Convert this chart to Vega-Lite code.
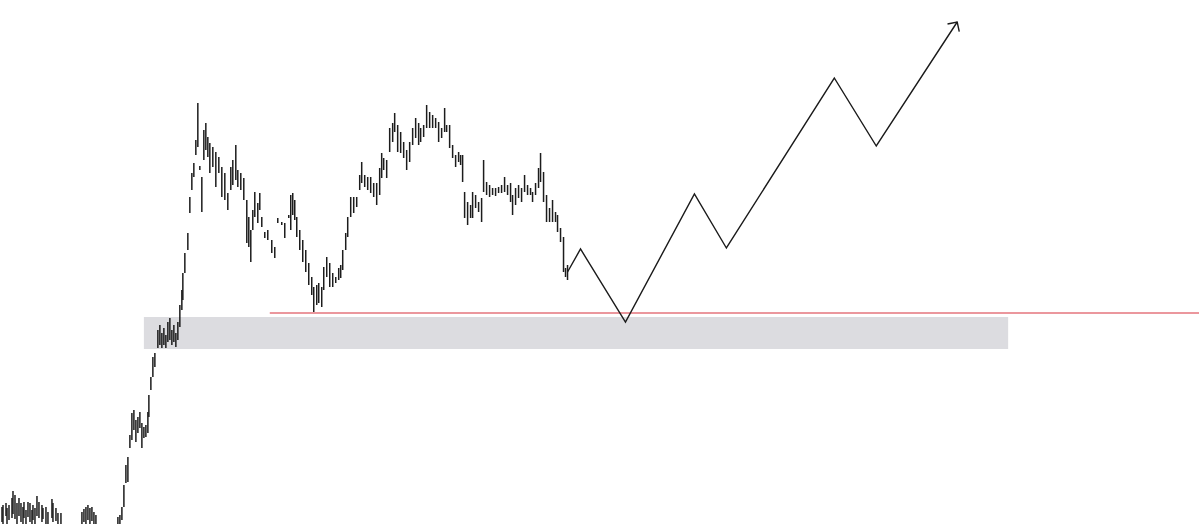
{
  "$schema": "https://vega.github.io/schema/vega-lite/v6.json",
  "width": 1200,
  "height": 524,
  "padding": 0,
  "autosize": {"type": "fit", "contains": "padding"},
  "background": "white",
  "config": {"view": {"stroke": null}},
  "datasets": {
    "bars": [
      {"t":2,"h":17,"l":2},{"t":3,"h":19,"l":-2},{"t":6,"h":21,"l":8},{"t":7,"h":16,"l":0},{"t":9,"h":19,"l":4},
      {"t":12,"h":26,"l":6},{"t":13,"h":33,"l":10},{"t":15,"h":29,"l":5},{"t":17,"h":21,"l":0},{"t":19,"h":26,"l":8},
      {"t":21,"h":21,"l":2},{"t":23,"h":17,"l":-2},{"t":24,"h":22,"l":6},{"t":26,"h":14,"l":0},{"t":28,"h":22,"l":7},
      {"t":30,"h":21,"l":2},{"t":32,"h":14,"l":-2},{"t":33,"h":19,"l":4},{"t":35,"h":16,"l":0},{"t":37,"h":28,"l":8},
      {"t":39,"h":22,"l":6},{"t":42,"h":19,"l":2},{"t":43,"h":16,"l":5},{"t":46,"h":17,"l":0},{"t":48,"h":12,"l":-2},
      {"t":52,"h":25,"l":6},{"t":53,"h":21,"l":2},{"t":56,"h":16,"l":3},{"t":58,"h":11,"l":-2},{"t":61,"h":11,"l":0},
      {"t":82,"h":12,"l":0},{"t":84,"h":15,"l":2},{"t":86,"h":17,"l":-2},{"t":88,"h":19,"l":4},{"t":90,"h":16,"l":0},
      {"t":92,"h":17,"l":3},{"t":94,"h":12,"l":-2},{"t":96,"h":9,"l":0},
      {"t":118,"h":7,"l":-4},{"t":120,"h":9,"l":0},{"t":122,"h":17,"l":4},{"t":124,"h":39,"l":17},{"t":126,"h":59,"l":41},
      {"t":128,"h":67,"l":42},{"t":130,"h":89,"l":76},{"t":132,"h":111,"l":84},{"t":134,"h":114,"l":94},{"t":136,"h":104,"l":82},
      {"t":138,"h":107,"l":91},{"t":140,"h":112,"l":96},{"t":142,"h":101,"l":76},{"t":144,"h":97,"l":86},{"t":146,"h":99,"l":87},
      {"t":148,"h":112,"l":91},{"t":149,"h":129,"l":107},{"t":151,"h":147,"l":134},{"t":153,"h":167,"l":147},{"t":155,"h":171,"l":157},
      {"t":158,"h":194,"l":176},{"t":160,"h":199,"l":179},{"t":162,"h":191,"l":176},{"t":164,"h":196,"l":179},{"t":166,"h":189,"l":176},
      {"t":168,"h":202,"l":182},{"t":170,"h":206,"l":184},{"t":172,"h":194,"l":179},{"t":174,"h":199,"l":182},{"t":176,"h":191,"l":177},
      {"t":178,"h":202,"l":184},{"t":180,"h":219,"l":197},{"t":182,"h":234,"l":214},{"t":183,"h":251,"l":224},{"t":185,"h":271,"l":251},
      {"t":188,"h":291,"l":274},{"t":190,"h":327,"l":311},{"t":192,"h":351,"l":334},{"t":194,"h":361,"l":347},{"t":196,"h":384,"l":369},
      {"t":198,"h":421,"l":377},{"t":200,"h":358,"l":354},{"t":202,"h":347,"l":312},{"t":204,"h":394,"l":364},{"t":206,"h":401,"l":374},
      {"t":208,"h":387,"l":367},{"t":210,"h":381,"l":351},{"t":213,"h":377,"l":357},{"t":216,"h":372,"l":337},{"t":219,"h":367,"l":351},
      {"t":222,"h":357,"l":327},{"t":225,"h":351,"l":324},{"t":228,"h":331,"l":314},{"t":231,"h":357,"l":334},{"t":233,"h":364,"l":339},
      {"t":236,"h":379,"l":344},{"t":238,"h":354,"l":337},{"t":241,"h":351,"l":334},{"t":244,"h":346,"l":324},{"t":247,"h":324,"l":281},
      {"t":249,"h":307,"l":277},{"t":251,"h":294,"l":262},{"t":253,"h":314,"l":294},{"t":255,"h":332,"l":307},{"t":258,"h":321,"l":301},
      {"t":260,"h":331,"l":314},{"t":262,"h":307,"l":297},{"t":265,"h":292,"l":286},{"t":268,"h":294,"l":284},{"t":272,"h":284,"l":271},
      {"t":275,"h":277,"l":266},{"t":278,"h":306,"l":301},{"t":282,"h":302,"l":299},{"t":285,"h":301,"l":286},{"t":289,"h":309,"l":306},
      {"t":291,"h":329,"l":294},{"t":293,"h":331,"l":309},{"t":295,"h":324,"l":304},{"t":297,"h":307,"l":287},{"t":300,"h":294,"l":274},
      {"t":303,"h":284,"l":262},{"t":306,"h":274,"l":252},{"t":309,"h":261,"l":239},{"t":312,"h":247,"l":229},{"t":314,"h":237,"l":212},
      {"t":317,"h":239,"l":219},{"t":319,"h":241,"l":221},{"t":322,"h":237,"l":217},{"t":324,"h":257,"l":234},{"t":327,"h":267,"l":247},
      {"t":330,"h":261,"l":237},{"t":333,"h":251,"l":237},{"t":336,"h":247,"l":241},{"t":339,"h":256,"l":244},{"t":341,"h":259,"l":246},
      {"t":343,"h":274,"l":254},{"t":346,"h":291,"l":274},{"t":348,"h":307,"l":287},{"t":351,"h":327,"l":307},{"t":354,"h":327,"l":311},
      {"t":357,"h":327,"l":317},{"t":360,"h":349,"l":334},{"t":362,"h":362,"l":341},{"t":365,"h":349,"l":337},{"t":368,"h":347,"l":334},
      {"t":371,"h":347,"l":331},{"t":374,"h":341,"l":327},{"t":377,"h":341,"l":319},{"t":380,"h":356,"l":329},{"t":382,"h":371,"l":346},
      {"t":384,"h":366,"l":354},{"t":387,"h":364,"l":346},{"t":390,"h":396,"l":372},{"t":393,"h":401,"l":382},{"t":395,"h":411,"l":392},
      {"t":398,"h":399,"l":372},{"t":401,"h":392,"l":371},{"t":404,"h":382,"l":366},{"t":407,"h":374,"l":354},{"t":410,"h":382,"l":362},
      {"t":413,"h":396,"l":379},{"t":416,"h":406,"l":386},{"t":419,"h":401,"l":379},{"t":421,"h":396,"l":382},{"t":424,"h":399,"l":387},
      {"t":427,"h":419,"l":396},{"t":430,"h":412,"l":396},{"t":433,"h":409,"l":396},{"t":436,"h":406,"l":396},{"t":439,"h":402,"l":382},
      {"t":442,"h":396,"l":386},{"t":445,"h":416,"l":392},{"t":447,"h":399,"l":392},{"t":450,"h":399,"l":376},{"t":453,"h":379,"l":366},
      {"t":456,"h":369,"l":357},{"t":459,"h":372,"l":362},{"t":461,"h":369,"l":359},{"t":463,"h":369,"l":342},{"t":465,"h":332,"l":306},
      {"t":468,"h":322,"l":299},{"t":471,"h":319,"l":306},{"t":473,"h":332,"l":306},{"t":476,"h":329,"l":316},{"t":479,"h":322,"l":312},
      {"t":482,"h":326,"l":302},{"t":484,"h":364,"l":332},{"t":487,"h":342,"l":329},{"t":490,"h":339,"l":327},{"t":493,"h":336,"l":329},
      {"t":496,"h":336,"l":328},{"t":499,"h":337,"l":331},{"t":502,"h":339,"l":331},{"t":505,"h":347,"l":332},{"t":508,"h":339,"l":329},
      {"t":511,"h":341,"l":322},{"t":513,"h":329,"l":309},{"t":516,"h":336,"l":319},{"t":519,"h":339,"l":326},{"t":522,"h":336,"l":322},
      {"t":525,"h":349,"l":332},{"t":528,"h":339,"l":329},{"t":531,"h":336,"l":329},{"t":533,"h":332,"l":322},{"t":536,"h":341,"l":329},
      {"t":539,"h":356,"l":336},{"t":541,"h":371,"l":342},{"t":544,"h":352,"l":322},{"t":547,"h":329,"l":302},{"t":550,"h":316,"l":302},
      {"t":553,"h":324,"l":302},{"t":556,"h":312,"l":302},{"t":558,"h":309,"l":292},{"t":561,"h":296,"l":282},{"t":564,"h":287,"l":252},
      {"t":566,"h":256,"l":247},{"t":568,"h":259,"l":244}
    ],
    "zone": [{"t0": 144, "t1": 1009, "lo": 175, "hi": 207}],
    "level": [{"t0": 270, "t1": 1200, "p": 211}],
    "path": [
      {"t": 568, "p": 252}, {"t": 581, "p": 275}, {"t": 626, "p": 202}, {"t": 695, "p": 330},
      {"t": 727, "p": 276}, {"t": 835, "p": 446}, {"t": 877, "p": 378}, {"t": 958, "p": 502}
    ],
    "head": [{"t": 958, "p": 502}]
  },
  "layer": [
    {
      "data": {"name": "zone"},
      "mark": {"type": "rect", "color": "#dcdce0"},
      "encoding": {
        "x": {"field": "t0", "type": "quantitative", "scale": {"domain": [0, 1200], "nice": false, "zero": false}, "axis": null},
        "x2": {"field": "t1"},
        "y": {"field": "lo", "type": "quantitative", "scale": {"domain": [0, 524], "nice": false, "zero": false}, "axis": null},
        "y2": {"field": "hi"}
      }
    },
    {
      "data": {"name": "level"},
      "mark": {"type": "rule", "stroke": "#d8303c", "strokeWidth": 1.2},
      "encoding": {
        "x": {"field": "t0", "type": "quantitative"},
        "x2": {"field": "t1"},
        "y": {"field": "p", "type": "quantitative"}
      }
    },
    {
      "data": {"name": "bars"},
      "mark": {"type": "rule", "color": "#1c1c1c", "strokeWidth": 1.5, "clip": true},
      "encoding": {
        "x": {"field": "t", "type": "quantitative"},
        "y": {"field": "l", "type": "quantitative"},
        "y2": {"field": "h"}
      }
    },
    {
      "data": {"name": "path"},
      "mark": {"type": "line", "color": "#1a1a1a", "strokeWidth": 1.4},
      "encoding": {
        "x": {"field": "t", "type": "quantitative"},
        "y": {"field": "p", "type": "quantitative"},
        "order": {"field": "t", "type": "quantitative"}
      }
    },
    {
      "data": {"name": "head"},
      "mark": {"type": "point", "shape": "M-0.7,0.7L0,0L0.7,0.7", "filled": false, "stroke": "#1a1a1a", "strokeWidth": 1.4, "size": 400, "angle": 33, "opacity": 1},
      "encoding": {
        "x": {"field": "t", "type": "quantitative"},
        "y": {"field": "p", "type": "quantitative"}
      }
    }
  ]
}
